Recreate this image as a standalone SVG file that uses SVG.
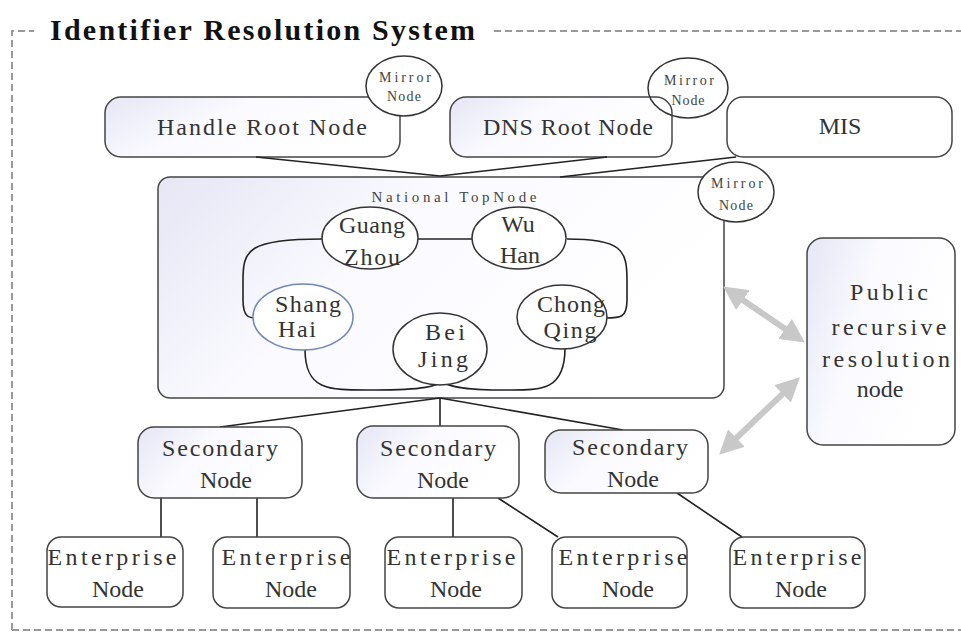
<svg xmlns="http://www.w3.org/2000/svg" width="961" height="632" viewBox="0 0 961 632">
<style>
.box{stroke:#444;stroke-width:1.5;fill:#fff}
.gbox{stroke:#444;stroke-width:1.5;fill:url(#lav)}
.ell{stroke:#333;stroke-width:1.5;fill:#fff}
.lbl{font-family:"Liberation Serif","DejaVu Serif",serif;font-size:24px;fill:#333;text-anchor:middle}
.sm{font-family:"Liberation Serif","DejaVu Serif",serif;font-size:14px;fill:#444;text-anchor:middle}
.ln{stroke:#222;stroke-width:1.6;fill:none}
.dash{stroke:#999;stroke-width:2;stroke-dasharray:7,4;fill:none}
.garrow{stroke:#c8c8c8;stroke-width:6;fill:none;marker-start:url(#ga);marker-end:url(#ga)}
</style>
<defs>
<linearGradient id="lav" x1="0" y1="0" x2="1" y2="0.4">
<stop offset="0" stop-color="#e6e6f5"/>
<stop offset="0.45" stop-color="#fafaff"/>
<stop offset="1" stop-color="#fff"/>
</linearGradient>
<marker id="ga" viewBox="0 0 10 10" refX="6" refY="5" markerWidth="4" markerHeight="4" orient="auto-start-reverse" markerUnits="strokeWidth">
<path d="M0,0 L10,5 L0,10 z" fill="#c8c8c8"/>
</marker>
</defs>
<rect width="961" height="632" fill="#fff"/>
<g id="frame">
<path class="dash" d="M12,630 V31 H34"/>
<path class="dash" d="M494,31 H961"/>
<path class="dash" d="M12,630 H961"/>
<text x="50" y="40" textLength="425" lengthAdjust="spacing" style="font-family:'Liberation Serif','DejaVu Serif',serif;font-weight:bold;font-size:30px;fill:#111">Identifier Resolution System</text>
</g>
<g id="handle-root">
<rect class="gbox" x="105" y="97" width="295" height="60" rx="16"/>
<text class="lbl" x="262" y="135" textLength="210" lengthAdjust="spacing">Handle Root Node</text>
</g>
<g id="handle-mirror">
<ellipse class="ell" cx="404" cy="86" rx="38" ry="30"/>
<text class="sm" x="405" y="82" textLength="52" lengthAdjust="spacing">Mirror</text>
<text class="sm" x="404" y="101" textLength="34" lengthAdjust="spacing">Node</text>
</g>
<g id="dns-root">
<rect class="gbox" x="450" y="97" width="222" height="60" rx="16"/>
<text class="lbl" x="568" y="135" textLength="170" lengthAdjust="spacing">DNS Root Node</text>
</g>
<g id="dns-mirror">
<ellipse class="ell" cx="688" cy="88" rx="40" ry="30" style="fill:none"/>
<text class="sm" x="689" y="85" textLength="50" lengthAdjust="spacing">Mirror</text>
<text class="sm" x="688" y="105" textLength="33" lengthAdjust="spacing">Node</text>
</g>
<g id="mis">
<rect class="box" x="727" y="97" width="225" height="60" rx="16"/>
<text class="lbl" x="840" y="134">MIS</text>
</g>
<g id="national-top">
<rect class="gbox" x="158" y="177" width="566" height="221" rx="12"/>
<text x="454" y="202" textLength="165" lengthAdjust="spacing" style="font-family:'Liberation Serif','DejaVu Serif',serif;font-size:15px;fill:#444;text-anchor:middle">National TopNode</text>
</g>
<g id="connectors">
<path class="ln" d="M256,157 L440,176 M607,157 L440,176 M736,157 L560,177"/>
<path class="ln" d="M418,239 H472"/>
<path class="ln" d="M322,239 C248,239 243,250 243,280 V300 C243,318 250,318 256,318"/>
<path class="ln" d="M567,239 C622,239 627,250 627,280 V300 C627,318 620,318 606,318"/>
<path class="ln" d="M305,349 C305,392 330,390 375,390 C425,390 437,386 442,381"/>
<path class="ln" d="M565,348 C565,392 540,390 505,390 C460,390 447,386 442,381"/>
<path class="ln" d="M440,398 L220,427 M440,398 V426 M440,398 L623,430"/>
<path class="ln" d="M161,498 V537 M257,498 V537 M453,498 V537 M498,498 L558,537 M677,493 L742,537"/>
<path class="garrow" d="M731,292 L797,337"/>
<path class="garrow" d="M793,384 L726,448"/>
</g>
<g id="national-mirror">
<ellipse class="ell" cx="736" cy="192" rx="38" ry="30"/>
<text class="sm" x="737" y="188" textLength="52" lengthAdjust="spacing">Mirror</text>
<text class="sm" x="736" y="210" textLength="34" lengthAdjust="spacing">Node</text>
</g>
<g id="guangzhou">
<ellipse class="ell" cx="370" cy="238" rx="48" ry="31"/>
<text class="lbl" x="372" y="233" textLength="66" lengthAdjust="spacing">Guang</text>
<text class="lbl" x="372" y="265" textLength="56" lengthAdjust="spacing">Zhou</text>
</g>
<g id="wuhan">
<ellipse class="ell" cx="519" cy="238" rx="47" ry="31"/>
<text class="lbl" x="518" y="232">Wu</text>
<text class="lbl" x="520" y="263">Han</text>
</g>
<g id="shanghai">
<ellipse class="ell" cx="303" cy="317" rx="50" ry="33" style="stroke:#6f86b8"/>
<text class="lbl" x="308" y="312" textLength="66" lengthAdjust="spacing">Shang</text>
<text class="lbl" x="297" y="337" textLength="38" lengthAdjust="spacing">Hai</text>
</g>
<g id="beijing">
<ellipse class="ell" cx="440" cy="349" rx="47" ry="36"/>
<text class="lbl" x="445" y="340" textLength="40" lengthAdjust="spacing">Bei</text>
<text class="lbl" x="443" y="367" textLength="50" lengthAdjust="spacing">Jing</text>
</g>
<g id="chongqing">
<ellipse class="ell" cx="562" cy="317" rx="45" ry="32"/>
<text class="lbl" x="571" y="312" textLength="68" lengthAdjust="spacing">Chong</text>
<text class="lbl" x="570" y="338" textLength="53" lengthAdjust="spacing">Qing</text>
</g>
<g id="public-recursive">
<rect class="gbox" x="807" y="238" width="148" height="207" rx="16"/>
<text class="lbl" x="889" y="300" textLength="78" lengthAdjust="spacing">Public</text>
<text class="lbl" x="889" y="335" textLength="115" lengthAdjust="spacing">recursive</text>
<text class="lbl" x="886" y="367" textLength="128" lengthAdjust="spacing">resolution</text>
<text class="lbl" x="880" y="397">node</text>
</g>
<g id="secondary-1">
<rect class="gbox" x="138" y="427" width="164" height="71" rx="16"/>
<text class="lbl" x="220" y="456" textLength="116" lengthAdjust="spacing">Secondary</text>
<text class="lbl" x="226" y="488">Node</text>
</g>
<g id="secondary-2">
<rect class="gbox" x="357" y="426" width="162" height="72" rx="16"/>
<text class="lbl" x="438" y="456" textLength="116" lengthAdjust="spacing">Secondary</text>
<text class="lbl" x="443" y="488">Node</text>
</g>
<g id="secondary-3">
<rect class="gbox" x="545" y="430" width="163" height="63" rx="16"/>
<text class="lbl" x="630" y="455" textLength="116" lengthAdjust="spacing">Secondary</text>
<text class="lbl" x="633" y="487">Node</text>
</g>
<g id="enterprise-1">
<rect class="box" x="47" y="537" width="136" height="70" rx="14"/>
<text class="lbl" x="112" y="565" textLength="129" lengthAdjust="spacing">Enterprise</text>
<text class="lbl" x="118" y="597">Node</text>
</g>
<g id="enterprise-2">
<rect class="box" x="213" y="537" width="137" height="71" rx="14"/>
<text class="lbl" x="286" y="565" textLength="129" lengthAdjust="spacing">Enterprise</text>
<text class="lbl" x="291" y="597">Node</text>
</g>
<g id="enterprise-3">
<rect class="box" x="385" y="537" width="137" height="71" rx="14"/>
<text class="lbl" x="451" y="565" textLength="129" lengthAdjust="spacing">Enterprise</text>
<text class="lbl" x="456" y="597">Node</text>
</g>
<g id="enterprise-4">
<rect class="box" x="552" y="537" width="135" height="71" rx="14"/>
<text class="lbl" x="623" y="565" textLength="129" lengthAdjust="spacing">Enterprise</text>
<text class="lbl" x="628" y="597">Node</text>
</g>
<g id="enterprise-5">
<rect class="box" x="730" y="537" width="135" height="71" rx="14"/>
<text class="lbl" x="797" y="565" textLength="129" lengthAdjust="spacing">Enterprise</text>
<text class="lbl" x="801" y="597">Node</text>
</g>
</svg>
